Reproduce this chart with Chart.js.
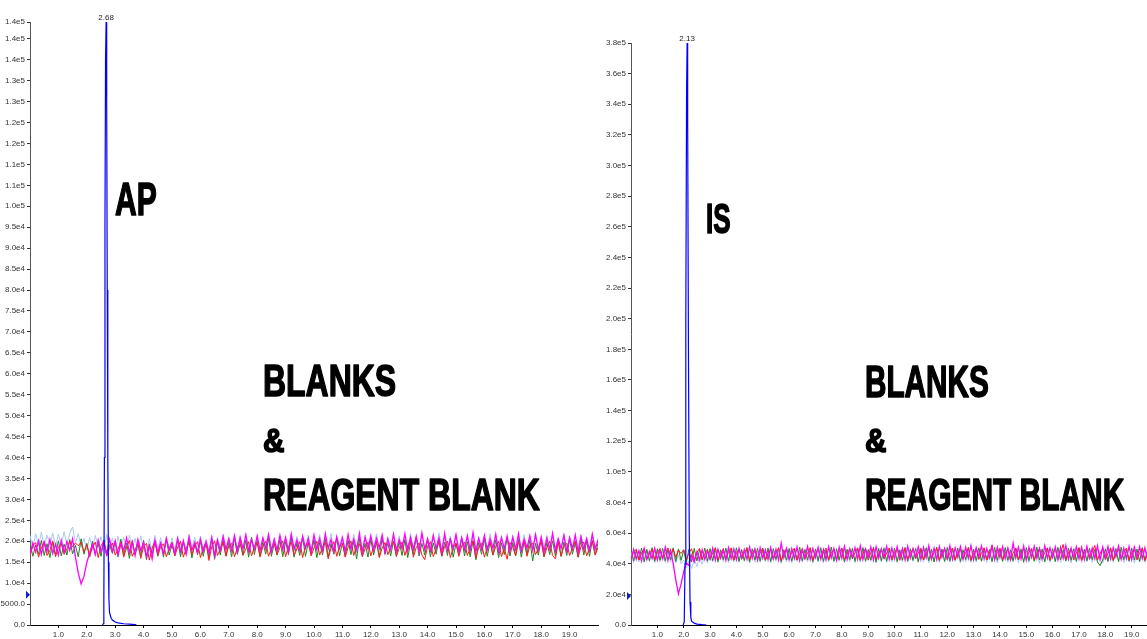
<!DOCTYPE html>
<html>
<head>
<meta charset="utf-8">
<script src="https://cdn.jsdelivr.net/npm/chart.js@4.4.1/dist/chart.umd.min.js"></script>
<style>
html,body{margin:0;padding:0;background:#fff;overflow:hidden;}
#wrapL{position:absolute;left:0;top:0;width:600px;height:639px;}
#wrapR{position:absolute;left:600px;top:0;width:547px;height:639px;}
</style>
</head>
<body>
<div id="wrapL"><canvas id="cL"></canvas></div>
<div id="wrapR"><canvas id="cR"></canvas></div>
<script>
// ---------- shared retention-time grid (min) ----------
const times = [0.0,0.1,0.2,0.3,0.4,0.5,0.6,0.7,0.8,0.9,
1.0,1.1,1.2,1.3,1.4,1.5,1.6,1.7,1.8,1.9,
2.0,2.1,2.2,2.3,2.4,2.5,2.6,2.7,2.8,2.9,
3.0,3.1,3.2,3.3,3.4,3.5,3.6,3.7,3.8,3.9,
4.0,4.1,4.2,4.3,4.4,4.5,4.6,4.7,4.8,4.9,
5.0,5.1,5.2,5.3,5.4,5.5,5.6,5.7,5.8,5.9,
6.0,6.1,6.2,6.3,6.4,6.5,6.6,6.7,6.8,6.9,
7.0,7.1,7.2,7.3,7.4,7.5,7.6,7.7,7.8,7.9,
8.0,8.1,8.2,8.3,8.4,8.5,8.6,8.7,8.8,8.9,
9.0,9.1,9.2,9.3,9.4,9.5,9.6,9.7,9.8,9.9,
10.0,10.1,10.2,10.3,10.4,10.5,10.6,10.7,10.8,10.9,
11.0,11.1,11.2,11.3,11.4,11.5,11.6,11.7,11.8,11.9,
12.0,12.1,12.2,12.3,12.4,12.5,12.6,12.7,12.8,12.9,
13.0,13.1,13.2,13.3,13.4,13.5,13.6,13.7,13.8,13.9,
14.0,14.1,14.2,14.3,14.4,14.5,14.6,14.7,14.8,14.9,
15.0,15.1,15.2,15.3,15.4,15.5,15.6,15.7,15.8,15.9,
16.0,16.1,16.2,16.3,16.4,16.5,16.6,16.7,16.8,16.9,
17.0,17.1,17.2,17.3,17.4,17.5,17.6,17.7,17.8,17.9,
18.0,18.1,18.2,18.3,18.4,18.5,18.6,18.7,18.8,18.9,
19.0,19.1,19.2,19.3,19.4,19.5,19.6,19.7,19.8,19.9,
20.0];

// ---------- LEFT panel (AP), intensities in thousands of counts ----------
const apGreen = [19.6,16.4,19.1,16.9,20.2,16.6,19.4,16.1,19.8,16.8,
20.1,16.5,19.3,16.7,20.4,17.0,19.0,16.3,20.6,16.9,
19.5,16.2,20.0,16.8,19.7,16.4,20.3,16.6,19.2,17.1,
19.9,16.3,20.5,16.7,19.6,15.9,20.1,16.8,19.4,16.5,
20.2,15.6,19.3,16.9,20.0,16.4,19.7,16.2,20.4,16.7,
19.1,16.6,20.3,16.3,19.8,16.9,20.6,16.0,19.5,16.8,
20.0,16.4,19.6,16.1,20.5,15.7,19.9,16.7,20.2,16.5,
19.7,16.3,20.8,16.9,19.4,16.6,20.3,16.2,21.0,16.8,
20.1,16.5,19.8,16.9,20.6,16.4,19.5,16.7,20.4,16.3,
19.9,16.8,20.7,16.2,19.6,16.6,20.9,16.4,19.8,16.9,
20.3,16.1,19.7,16.7,20.5,16.3,19.4,16.9,20.8,16.5,
19.6,16.4,20.2,16.8,19.9,15.8,20.6,16.6,19.5,16.2,
20.4,16.7,19.8,16.3,20.7,16.9,19.6,16.5,20.1,16.4,
19.9,16.6,20.3,16.1,19.7,16.8,20.9,16.5,19.5,16.7,
20.2,16.3,19.6,16.9,20.5,16.4,19.8,16.6,20.7,16.2,
19.4,16.8,20.6,16.5,19.9,16.3,20.1,15.6,19.7,16.9,
20.5,16.4,19.8,16.7,20.3,16.1,19.6,16.8,20.8,16.5,
19.7,16.6,20.4,16.2,19.9,16.9,20.2,15.3,19.5,16.7,
20.6,16.3,19.7,16.8,20.1,16.5,20.4,16.4,19.8,16.6,
20.3,16.9,19.6,16.2,20.5,16.7,19.9,16.4,20.2,16.8,
19.5];
const apRed = [16.5,18.9,19.7,16.2,18.4,19.9,16.6,17.8,20.1,16.3,
18.6,19.5,16.9,18.2,20.0,18.7,19.6,18.9,19.8,17.4,
19.2,16.4,18.5,19.8,16.1,18.9,20.0,16.5,18.3,19.6,
16.7,18.1,19.9,16.2,18.6,20.2,16.4,17.9,19.7,15.9,
18.8,19.5,15.5,18.3,20.1,16.6,18.7,19.4,16.3,18.2,
19.8,16.5,18.6,20.0,16.2,18.4,19.7,16.8,18.9,19.9,
16.1,18.5,19.6,15.4,18.7,20.1,16.6,18.2,19.8,16.4,
18.9,19.5,16.3,18.4,20.2,16.7,18.1,19.9,16.5,18.6,
19.7,16.2,18.8,20.0,16.4,18.3,19.6,16.8,18.5,20.1,
16.3,18.7,19.8,16.6,18.2,19.9,16.1,18.9,19.5,16.5,
18.4,20.0,16.7,18.6,19.7,15.8,18.3,19.9,16.4,18.8,
19.6,16.2,18.5,20.1,16.6,18.9,19.4,16.3,18.2,19.8,
16.5,18.7,20.0,16.1,18.4,19.7,16.8,18.6,19.9,16.4,
18.3,19.8,16.6,18.9,20.2,16.2,18.5,19.6,16.7,15.6,
18.8,19.9,16.3,18.2,19.7,16.5,18.7,20.0,16.1,18.4,
19.6,16.4,18.9,19.8,16.6,18.3,20.1,15.9,18.6,19.5,
16.2,18.5,19.9,16.7,18.8,20.0,16.3,18.4,15.7,19.7,
18.6,16.5,19.8,18.1,20.2,16.4,18.9,19.6,16.8,18.3,
19.9,16.3,18.5,20.0,16.6,15.8,19.7,16.4,18.8,19.5,
16.6,18.4,20.1,16.2,18.7,19.8,16.5,18.3,19.9,16.7,
18.5];
const apLightBlue = [21.4,18.3,21.8,18.9,22.2,18.6,21.5,19.1,22.0,18.7,
21.7,18.9,22.3,19.2,21.9,23.4,19.6,21.8,18.5,20.7,
17.9,20.9,18.2,21.4,18.6,21.1,17.8,21.6,18.4,20.8,
17.6,21.2,18.1,20.9,17.9,21.5,18.3,20.7,17.7,21.3,
18.0,16.8,20.6,17.8,21.4,18.2,20.9,17.5,21.1,18.4,
20.8,17.9,21.3,18.1,20.7,17.6,21.6,18.3,20.9,17.8,
21.2,18.0,20.5,17.7,21.4,16.9,20.8,18.2,21.7,17.9,
20.9,18.4,21.6,17.8,21.1,18.1,21.8,18.3,20.7,18.0,
21.5,17.9,20.9,18.5,21.9,18.2,20.6,17.7,21.3,18.4,
20.8,18.1,21.7,17.9,21.2,18.6,20.9,18.0,21.5,17.8,
21.0,18.3,21.6,17.6,20.8,18.4,21.9,18.1,20.7,18.5,
21.4,17.8,20.9,18.2,21.7,18.0,21.1,17.7,21.5,18.3,
20.9,18.5,21.8,17.9,21.2,18.1,20.6,18.4,21.6,17.8,
21.3,18.0,20.8,18.3,21.9,17.7,21.0,18.6,21.4,18.2,
20.7,18.4,21.5,17.9,22.0,18.1,20.9,18.3,21.2,17.6,
21.6,18.2,20.8,18.5,21.3,17.8,21.7,18.0,20.9,18.4,
21.1,17.9,21.8,18.2,20.7,18.6,21.4,17.7,21.0,18.3,
21.5,18.1,20.9,18.4,21.6,17.8,21.2,18.0,21.9,17.5,
20.8,18.3,21.4,17.9,21.1,18.5,20.7,18.2,21.7,18.0,
21.3,17.7,20.9,18.4,21.5,18.1,21.0,17.9,21.6,18.3,
20.8];
const apMagenta = [16.8,19.6,17.4,20.1,16.9,19.8,17.6,20.4,17.1,19.3,
16.7,20.2,17.3,19.9,17.8,20.6,16.2,12.4,9.8,11.6,
14.9,17.2,19.4,16.8,20.3,17.5,19.8,16.9,20.5,17.6,
20.1,16.7,19.5,17.9,20.8,17.2,19.9,16.6,20.4,17.8,
19.7,16.3,18.9,15.8,20.2,17.4,19.6,17.0,20.7,17.9,
19.4,17.1,20.6,17.5,20.0,16.9,21.0,17.8,19.7,17.3,
20.5,17.6,19.9,17.2,20.8,16.4,20.3,17.7,21.1,18.0,
20.6,17.8,21.3,17.5,20.9,18.2,21.5,17.6,20.4,18.1,
21.2,17.7,20.8,18.3,21.6,17.5,20.5,17.9,21.4,18.0,
20.9,17.4,21.7,18.1,20.3,17.8,21.2,18.4,20.7,17.6,
21.5,18.0,20.6,17.7,21.8,18.2,20.4,17.5,21.1,18.3,
20.8,17.6,21.6,18.1,20.5,17.9,21.9,17.4,20.9,18.2,
21.3,17.8,20.7,18.4,21.5,17.3,20.6,18.0,21.7,17.7,
20.4,18.3,21.8,17.6,20.9,18.1,21.2,17.5,22.0,18.0,
20.6,17.7,21.4,18.2,20.8,17.4,21.9,17.9,20.5,18.3,
21.6,17.6,20.9,18.0,21.3,17.8,22.1,17.5,20.7,18.1,
21.4,17.9,20.6,18.3,21.7,17.4,20.8,18.2,21.2,17.7,
20.9,18.0,21.8,17.6,20.5,18.4,21.3,17.8,21.6,17.9,
21.0,17.5,20.7,18.1,21.9,17.7,20.6,18.3,21.4,17.6,
20.8,18.2,21.5,17.4,21.1,18.0,20.6,17.8,21.7,18.1,
20.3];
const apPeakTimes  = [2.55,2.58,2.60,2.62,2.64,2.66,2.68,2.70,2.72,2.74,2.76,2.78,2.80,2.85,2.90,3.00,3.10,3.30,3.50,3.70,3.75];
const apPeakValues = [0,0.3,5,40,95,135,144,125,80,40,15,6,3,1.8,1.2,0.7,0.5,0.3,0.2,0.1,0];
const apPeakLabel = '2.68';
const apYTicks  = [0,5,10,15,20,25,30,35,40,45,50,55,60,65,70,75,80,85,90,95,100,105,110,115,120,125,130,135,140,144];
const apYLabels = ['0.0','5000.0','1.0e4','1.5e4','2.0e4','2.5e4','3.0e4','3.5e4','4.0e4','4.5e4','5.0e4','5.5e4','6.0e4','6.5e4','7.0e4','7.5e4','8.0e4','8.5e4','9.0e4','9.5e4','1.0e5','1.1e5','1.1e5','1.2e5','1.2e5','1.3e5','1.3e5','1.4e5','1.4e5','1.4e5'];
const apMarker = 7.2;

// ---------- RIGHT panel (IS), intensities in thousands of counts ----------
const isGreen = [49.6,41.8,49.0,42.5,50.2,41.3,49.4,42.0,50.5,41.6,
49.8,42.3,50.1,41.9,49.3,42.6,50.4,41.5,49.7,42.2,
48.9,40.6,49.5,41.2,50.0,41.8,49.2,42.4,50.3,41.7,
49.9,42.1,50.6,41.4,49.1,42.7,50.2,41.9,49.6,42.3,
50.4,41.6,49.3,42.0,50.7,41.2,49.8,42.5,50.1,41.8,
49.5,42.2,50.3,41.5,49.9,42.8,50.6,41.3,49.2,42.4,
50.0,41.7,49.6,42.3,50.8,41.9,49.4,42.6,50.2,41.4,
49.7,42.0,50.5,41.6,49.0,42.2,50.9,41.8,49.8,42.5,
50.3,41.3,49.5,42.7,50.1,41.6,49.7,42.1,50.6,41.9,
49.3,42.4,50.8,41.2,49.9,42.0,50.4,41.7,49.6,42.6,
50.2,41.5,49.1,42.3,50.7,41.8,49.8,42.2,50.0,41.4,
49.6,42.5,50.5,41.9,49.4,41.1,50.9,42.0,49.7,41.6,
50.6,41.8,49.9,42.4,50.3,41.5,49.2,42.7,50.8,41.9,
49.5,42.1,50.4,41.7,50.0,42.6,49.3,41.4,50.7,42.2,
49.8,41.6,50.6,42.3,49.1,41.9,50.2,42.5,49.7,40.9,
50.5,42.0,49.4,41.7,50.9,42.4,49.6,41.3,50.1,42.1,
49.9,41.5,50.7,42.6,49.2,41.8,50.3,42.2,49.8,41.6,
50.6,42.3,49.5,41.9,50.0,42.7,49.3,41.2,38.8,42.5,
49.7,41.7,50.4,42.1,49.9,41.4,50.8,42.6,49.4,41.8,
50.2,42.4,49.6,41.5,50.5,42.0,49.1,41.9,50.7,42.3,
45.0];
const isRed = [43.1,47.9,49.5,42.4,46.8,50.0,42.9,46.2,49.7,42.6,
47.4,49.9,43.3,46.5,50.3,45.8,49.6,44.2,48.9,46.7,
49.2,42.8,46.9,49.8,42.2,47.3,50.1,43.0,46.6,49.4,
42.7,47.1,50.2,42.5,46.3,49.9,43.2,47.5,50.4,42.3,
46.8,49.6,42.9,47.2,50.0,42.6,46.4,49.8,43.1,47.0,
50.3,42.4,46.7,49.5,42.8,47.4,50.1,42.2,46.9,49.7,
43.0,47.3,50.2,42.6,46.5,49.9,42.9,47.1,50.5,42.1,
46.6,49.4,43.3,47.0,50.2,42.7,46.8,49.6,42.4,47.5,
50.0,42.8,46.3,49.8,43.1,47.2,50.4,42.5,46.7,49.9,
42.3,47.4,50.1,42.9,46.6,49.5,43.0,47.1,50.3,42.6,
46.9,49.7,42.2,47.3,50.0,42.8,46.5,49.9,43.2,47.0,
50.2,42.5,46.8,49.6,42.9,47.5,50.1,42.4,46.6,49.8,
42.7,47.2,50.3,42.3,46.9,49.7,43.0,47.4,50.0,42.6,
46.4,49.9,42.8,47.1,50.5,42.4,46.7,52.1,42.9,47.3,
50.1,42.6,46.5,49.8,42.2,47.0,50.2,42.7,46.8,49.6,
42.9,47.3,50.0,42.5,46.6,49.9,43.1,47.2,50.4,42.3,
46.7,49.5,42.8,47.4,52.6,42.6,46.9,49.8,42.4,47.1,
50.3,42.2,46.6,49.7,42.9,47.3,51.9,42.5,46.8,49.9,
42.7,47.0,50.1,42.3,46.5,49.6,43.0,47.4,50.2,42.6,
46.9,49.8,42.5,47.2,50.0,42.1,46.7,49.7,42.8,47.3,
46.0];
const isLightBlue = [47.8,40.6,48.3,41.2,47.5,40.9,48.6,41.5,47.2,40.7,
48.1,41.3,47.7,40.8,48.4,41.0,47.0,40.5,45.8,39.9,
42.4,37.3,41.8,36.9,43.0,38.2,44.5,39.6,46.1,40.4,
47.6,41.1,48.2,40.7,47.9,41.4,48.5,40.6,47.3,41.2,
48.0,40.9,47.4,41.6,48.7,40.3,47.8,41.0,48.2,40.8,
47.5,41.3,48.4,40.5,47.9,41.7,48.1,40.2,47.6,41.1,
48.3,40.7,47.2,41.5,48.6,40.9,47.7,41.2,48.0,40.4,
47.4,41.0,48.5,40.6,47.8,41.4,48.2,40.8,47.1,41.6,
48.1,40.5,47.6,41.3,48.8,40.7,47.3,41.1,48.4,40.9,
47.7,41.5,48.0,40.3,47.5,41.2,48.6,40.8,47.9,41.0,
48.2,40.6,47.4,41.4,48.5,40.9,47.8,41.6,47.2,40.7,
48.0,41.1,47.7,40.5,48.3,41.3,47.5,40.8,48.7,41.0,
47.3,40.9,48.4,41.5,47.9,40.4,48.1,41.2,47.6,40.8,
48.6,41.0,47.2,41.6,48.0,40.7,47.8,41.3,48.3,40.5,
47.5,41.4,48.2,40.9,47.7,41.1,48.5,40.6,47.9,41.3,
48.4,40.8,47.6,41.5,48.1,40.3,47.3,41.0,48.7,40.9,
47.8,41.2,48.3,40.7,47.4,41.6,48.0,40.5,47.7,41.1,
48.5,40.6,47.9,41.3,48.2,40.8,47.5,41.4,48.6,40.4,
47.2,41.0,48.1,40.9,47.8,41.5,48.4,40.7,47.6,41.2,
48.0,40.5,47.3,41.1,48.5,40.8,47.9,41.6,47.4,40.9,
44.5];
const isMagenta = [42.1,49.3,43.0,48.6,41.8,49.9,42.7,48.2,43.4,50.1,
42.5,49.0,43.2,50.8,42.0,48.7,40.2,29.5,20.3,26.8,
34.7,40.5,38.9,45.6,41.2,47.8,42.3,49.1,42.8,48.5,
43.1,50.2,42.4,49.4,43.6,48.9,42.2,50.5,43.3,49.7,
42.6,50.0,43.8,49.2,42.9,51.0,43.5,49.6,42.3,50.4,
43.7,49.1,42.8,50.6,43.2,49.5,42.5,53.5,43.9,50.1,
42.7,49.8,43.4,50.9,42.1,49.3,43.6,51.2,42.9,49.9,
44.0,50.7,43.1,49.4,42.6,51.1,43.8,50.0,42.4,50.8,
43.5,51.3,42.8,49.7,44.1,50.5,43.0,51.6,42.7,49.6,
43.9,50.9,42.5,51.0,43.6,49.8,44.2,51.4,42.9,50.3,
43.3,51.2,44.0,50.1,42.6,51.5,43.7,49.9,44.3,51.0,
42.8,50.6,43.9,51.8,43.1,50.2,42.7,51.3,44.1,50.0,
43.4,51.7,42.9,50.4,44.2,51.1,43.0,50.8,43.6,51.9,
42.6,50.5,44.4,51.6,43.2,49.9,43.8,51.4,42.7,50.7,
44.0,51.2,43.3,50.3,42.8,53.4,43.9,50.9,43.1,51.5,
42.5,50.8,44.2,51.3,43.6,50.1,42.9,51.8,43.7,50.4,
44.1,51.0,42.7,50.6,43.5,51.9,43.0,50.2,44.3,51.1,
43.2,50.7,42.8,51.4,44.0,50.3,43.4,51.7,42.6,50.9,
43.8,51.2,43.1,50.5,44.4,51.6,42.9,50.1,43.5,51.3,
42.7,50.8,44.1,51.0,43.3,50.4,42.8,51.5,43.9,50.6,
47.0];
const isPeakTimes  = [1.98,2.02,2.05,2.08,2.11,2.13,2.15,2.18,2.21,2.24,2.27,2.30,2.40,2.50,2.70,2.86];
const isPeakValues = [0,2,40,200,350,380,330,180,60,15,5,2.5,1.2,0.6,0.2,0];
const isPeakLabel = '2.13';
const isYTicks  = [0,20,40,60,80,100,120,140,160,180,200,220,240,260,280,300,320,340,360,380];
const isYLabels = ['0.0','2.0e4','4.0e4','6.0e4','8.0e4','1.0e5','1.2e5','1.4e5','1.6e5','1.8e5','2.0e5','2.2e5','2.4e5','2.6e5','2.8e5','3.0e5','3.2e5','3.4e5','3.6e5','3.8e5'];
const isMarker = 19;

// ---------- x axis ticks ----------
const xTicks  = [1,2,3,4,5,6,7,8,9,10,11,12,13,14,15,16,17,18,19];
const xLabels = ['1.0','2.0','3.0','4.0','5.0','6.0','7.0','8.0','9.0','10.0','11.0','12.0','13.0','14.0','15.0','16.0','17.0','18.0','19.0'];

const FONT = '"Liberation Sans", Arial, sans-serif';

function pts(xs, ys){ return xs.map((x,i)=>({x:x, y:ys[i]})); }

function makeChart(id, cfg){
  const annot = {
    id:'annot',
    afterDraw(chart){
      const ctx = chart.ctx, xs = chart.scales.x, ys = chart.scales.y;
      ctx.save();
      let mi = 0;
      cfg.peakV.forEach((v,i)=>{ if(v>cfg.peakV[mi]) mi=i; });
      const px = xs.getPixelForValue(cfg.peakT[mi]);
      const py = ys.getPixelForValue(cfg.peakV[mi]);
      ctx.fillStyle = '#222';
      ctx.font = '8px ' + FONT;
      ctx.textAlign = 'center';
      ctx.textBaseline = 'alphabetic';
      ctx.fillText(cfg.peakLabel, px, py - 2);
      const my = ys.getPixelForValue(cfg.marker);
      const ax = chart.chartArea.left;
      ctx.fillStyle = '#1020c0';
      ctx.beginPath();
      ctx.moveTo(ax - 4, my - 4);
      ctx.lineTo(ax, my);
      ctx.lineTo(ax - 4, my + 4);
      ctx.closePath();
      ctx.fill();
      ctx.fillStyle = '#000';
      ctx.strokeStyle = '#000';
      ctx.lineJoin = 'round';
      ctx.textAlign = 'left';
      cfg.texts.forEach(t=>{
        ctx.save();
        ctx.font = 'bold ' + t.size + 'px ' + FONT;
        ctx.translate(t.x, t.y);
        ctx.scale(t.sx, 1);
        ctx.lineWidth = 1.6;
        ctx.fillText(t.s, 0, 0);
        ctx.strokeText(t.s, 0, 0);
        ctx.restore();
      });
      ctx.restore();
    }
  };
  const ds = (label, data, color, w) => ({label, data, borderColor:color, backgroundColor:color, borderWidth:w, pointRadius:0, tension:0, fill:false});
  return new Chart(document.getElementById(id), {
    type:'line',
    data:{ datasets:[
      ds('peak', pts(cfg.peakT, cfg.peakV), '#0000ff', 1.2),
      ds('magenta', pts(times, cfg.magenta), '#ff00ff', 1.3),
      ds('red', pts(times, cfg.red), '#ff1a1a', 1),
      ds('green', pts(times, cfg.green), '#1a8a1a', 1),
      ds('lightblue', pts(times, cfg.lightblue), '#a9c9ee', 1)
    ]},
    options:{
      responsive:true, maintainAspectRatio:false, animation:false,
      layout:{padding:{left:0, right:cfg.padRight, top:cfg.padTop, bottom:0}},
      plugins:{legend:{display:false}, tooltip:{enabled:false}},
      scales:{
        x:{
          type:'linear', min:0, max:cfg.xMax,
          afterBuildTicks: a => { a.ticks = xTicks.map(v=>({value:v})); },
          afterFit: s => { s.height = 14; },
          grid:{display:true, drawOnChartArea:false, tickLength:3, color:'#000'},
          border:{display:true, color:'#000', width:1},
          ticks:{autoSkip:false, maxRotation:0, padding:2, color:'#333', font:{size:8, family:FONT},
                 callback:(v,i)=>xLabels[i]}
        },
        y:{
          type:'linear', min:0, max:cfg.yMax,
          afterBuildTicks: a => { a.ticks = cfg.yTicks.map(v=>({value:v})); },
          afterFit: s => { s.width = cfg.yWidth; },
          grid:{display:true, drawOnChartArea:false, tickLength:3, color:'#333'},
          border:{display:true, color:'#555', width:1, dash:[1,1]},
          ticks:{autoSkip:false, padding:2, color:'#333', font:{size:8, family:FONT},
                 callback:(v,i)=>cfg.yLabels[i]}
        }
      }
    },
    plugins:[annot]
  });
}

makeChart('cL', {
  green:apGreen, red:apRed, lightblue:apLightBlue, magenta:apMagenta,
  peakT:apPeakTimes, peakV:apPeakValues, peakLabel:apPeakLabel,
  yTicks:apYTicks, yLabels:apYLabels, yMax:144, xMax:20, yWidth:30,
  padRight:2, padTop:22, marker:apMarker,
  texts:[
    {s:'AP', x:115, y:215, size:47, sx:0.64},
    {s:'BLANKS', x:263, y:396, size:45, sx:0.71},
    {s:'&', x:263, y:452, size:33, sx:0.9},
    {s:'REAGENT BLANK', x:263, y:510, size:45, sx:0.71}
  ]
});
makeChart('cR', {
  green:isGreen, red:isRed, lightblue:isLightBlue, magenta:isMagenta,
  peakT:isPeakTimes, peakV:isPeakValues, peakLabel:isPeakLabel,
  yTicks:isYTicks, yLabels:isYLabels, yMax:380, xMax:19.58, yWidth:31,
  padRight:0, padTop:43, marker:isMarker,
  texts:[
    {s:'IS', x:106, y:233, size:42, sx:0.62},
    {s:'BLANKS', x:265, y:397, size:45, sx:0.66},
    {s:'&', x:265, y:452, size:33, sx:0.9},
    {s:'REAGENT BLANK', x:265, y:510, size:45, sx:0.665}
  ]
});
</script>
</body>
</html>
